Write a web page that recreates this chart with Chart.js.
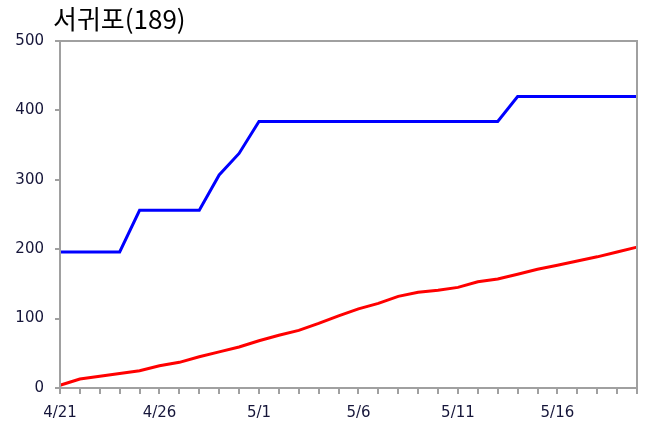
<!DOCTYPE html>
<html>
<head>
<meta charset="utf-8">
<script src="https://cdn.jsdelivr.net/npm/chart.js@4/dist/chart.umd.min.js"></script>
<style>
  html, body { margin: 0; padding: 0; background: #fff; }
  #wrap { width: 647px; height: 427px; }
</style>
</head>
<body>
<div id="wrap"><canvas id="line-chart" width="647" height="427"></canvas></div>
<script>
var titleText = '서귀포(189)';
var dates = ['4/21', '4/22', '4/23', '4/24', '4/25', '4/26', '4/27', '4/28', '4/29', '4/30',
             '5/1', '5/2', '5/3', '5/4', '5/5', '5/6', '5/7', '5/8', '5/9', '5/10',
             '5/11', '5/12', '5/13', '5/14', '5/15', '5/16', '5/17', '5/18', '5/19', '5/20'];
var blueValues = [196, 196, 196, 196, 256, 256, 256, 256, 307, 338,
                  384, 384, 384, 384, 384, 384, 384, 384, 384, 384,
                  384, 384, 384, 420, 420, 420, 420, 420, 420, 420];
var redValues = [4, 13, 17, 21, 25, 32, 37, 45, 52, 59,
                 68, 76, 83, 93, 104, 114, 122, 132, 138, 141,
                 145, 153, 157, 164, 171, 177, 183, 189, 196, 203];
var yTicks = [0, 100, 200, 300, 400, 500];

var tickFont = { family: 'DejaVu Sans', size: 15 };
var tickColor = '#16163a';
var axisGray = '#a0a0a0';

// box around the plot area + title text
var frame = {
    id: 'frame',
    afterDatasetsDraw: function (chart) {
        var a = chart.chartArea, ctx = chart.ctx;
        ctx.save();
        ctx.strokeStyle = axisGray;
        ctx.lineWidth = 2;
        ctx.strokeRect(a.left, a.top, a.right - a.left, a.bottom - a.top);
        ctx.fillStyle = '#000';
        ctx.font = '26px "Noto Sans CJK KR", "DejaVu Sans"';
        ctx.textBaseline = 'alphabetic';
        ctx.fillText(titleText, 53, 29);
        ctx.restore();
    }
};

new Chart(document.getElementById('line-chart').getContext('2d'), {
    type: 'line',
    data: {
        labels: dates,
        datasets: [{
            data: blueValues,
            borderColor: '#0000ff',
            borderWidth: 3,
            pointRadius: 0,
            tension: 0
        }, {
            data: redValues,
            borderColor: '#ff0000',
            borderWidth: 3,
            pointRadius: 0,
            tension: 0
        }]
    },
    options: {
        responsive: false,
        animation: false,
        layout: { padding: { left: 0, top: 41, right: 8, bottom: 0 } },
        plugins: {
            legend: { display: false },
            title: { display: false },
            tooltip: { enabled: false }
        },
        scales: {
            x: {
                offset: false,
                afterFit: function (s) { s.height = 39; },
                border: { display: false },
                grid: { drawOnChartArea: false, tickLength: 6, color: axisGray, lineWidth: 2 },
                ticks: {
                    autoSkip: false,
                    maxRotation: 0,
                    padding: 10,
                    font: tickFont,
                    color: tickColor,
                    callback: function (v, i) { return i % 5 === 0 ? dates[i] : ''; }
                }
            },
            y: {
                min: 0,
                max: 500,
                afterFit: function (s) { s.width = 60; },
                afterBuildTicks: function (s) { s.ticks = yTicks.map(function (v) { return { value: v }; }); },
                border: { display: false },
                grid: { drawOnChartArea: false, tickLength: 5, color: axisGray, lineWidth: 2 },
                ticks: { padding: 11, font: tickFont, color: tickColor }
            }
        }
    },
    plugins: [frame]
});
</script>
</body>
</html>
